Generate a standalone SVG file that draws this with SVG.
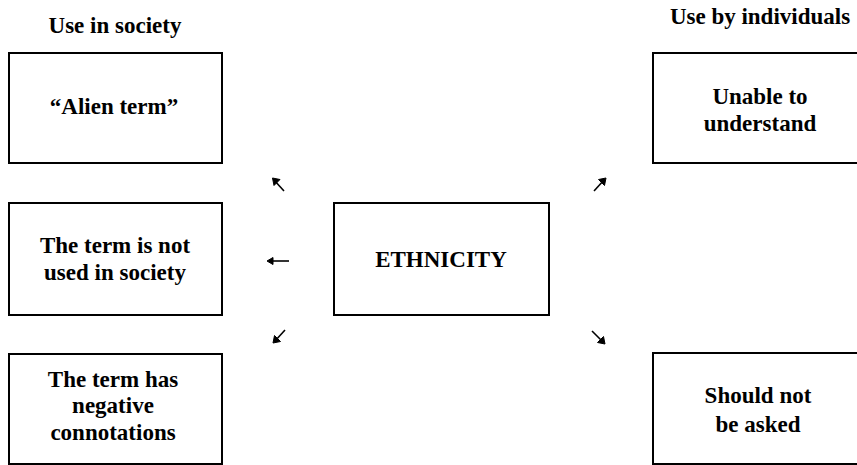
<svg xmlns="http://www.w3.org/2000/svg" width="857" height="465" viewBox="0 0 857 465">
<style>
.box{fill:#fff;stroke:#000;stroke-width:2}
.t{font-family:"Liberation Serif","Times New Roman",serif;font-weight:bold;font-size:23px;fill:#000;text-anchor:middle}
.ln{stroke:#000;stroke-width:1.6;fill:none}
.hd{fill:#000;stroke:#000;stroke-width:1;stroke-linejoin:miter}
</style>
<rect width="857" height="465" fill="#fff"/>
<g id="header-society"><text class="t" x="115" y="33">Use in society</text></g>
<g id="header-individuals"><text class="t" x="760" y="24">Use by individuals</text></g>
<g id="node-alien">
<rect class="box" x="9" y="53" width="213" height="110"/>
<text class="t" x="114" y="114">“Alien term”</text>
</g>
<g id="node-notused">
<rect class="box" x="9" y="203" width="213" height="112"/>
<text class="t" x="115" y="253">The term is not</text>
<text class="t" x="115" y="280">used in society</text>
</g>
<g id="node-negative">
<rect class="box" x="9" y="354" width="213" height="110"/>
<text class="t" x="113" y="387">The term has</text>
<text class="t" x="113" y="413">negative</text>
<text class="t" x="113" y="440">connotations</text>
</g>
<g id="node-ethnicity">
<rect class="box" x="334" y="203" width="215" height="112"/>
<text class="t" x="441" y="267">ETHNICITY</text>
</g>
<g id="node-unable">
<rect class="box" x="653" y="53" width="214" height="110"/>
<text class="t" x="760" y="104">Unable to</text>
<text class="t" x="760" y="131">understand</text>
</g>
<g id="node-asked">
<rect class="box" x="653" y="353" width="214" height="111"/>
<text class="t" x="758" y="403">Should not</text>
<text class="t" x="758" y="432">be asked</text>
</g>
<g id="connectors">
<line class="ln" x1="284" y1="191" x2="274" y2="180"/>
<path class="hd" d="M272.5,178 L280,179.5 L274,185.5 Z"/>
<line class="ln" x1="594" y1="191" x2="604" y2="180"/>
<path class="hd" d="M606,178 L598.5,179.5 L604.5,185.5 Z"/>
<line class="ln" x1="289" y1="261" x2="270" y2="261"/>
<path class="hd" d="M267,261 L273,257.5 L273,264.5 Z"/>
<line class="ln" x1="285" y1="330" x2="275" y2="341"/>
<path class="hd" d="M273,343 L274.5,335.5 L280.5,341.5 Z"/>
<line class="ln" x1="592" y1="331" x2="603" y2="342"/>
<path class="hd" d="M605,344 L597.5,342.5 L603.5,336.5 Z"/>
</g>
</svg>
